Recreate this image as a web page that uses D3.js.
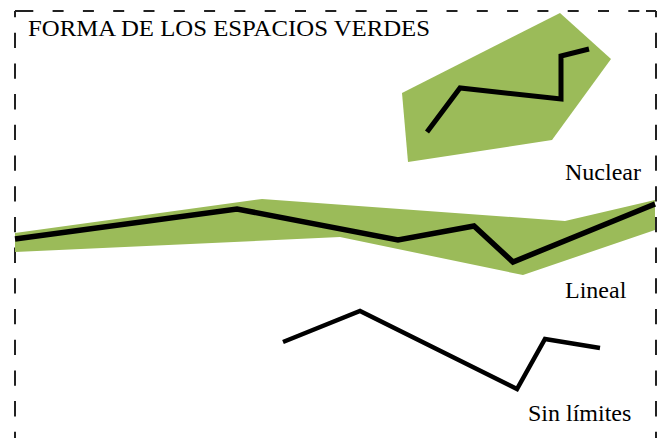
<!DOCTYPE html>
<html>
<head>
<meta charset="utf-8">
<script src="https://cdn.jsdelivr.net/npm/d3@7"></script>
<style>
  html, body { margin: 0; padding: 0; background: #fff; }
  svg { display: block; }
  .label { font-family: "Liberation Serif", "Times New Roman", serif; fill: #000; }
</style>
</head>
<body>
<div class="chart"></div>
<script>
// Valores, en unidades del recuadro (0 = borde izquierdo / superior)
const title = "FORMA DE LOS ESPACIOS VERDES";
const shapeNames = ["Nuclear", "Lineal", "Sin límites"];

const nuclearArea = [[387, 82], [545, 2], [596, 48], [537, 129], [393, 151]];
const nuclearLine = [[412, 121], [445, 77], [546, 88], [546, 45], [574, 38]];

const linealArea = [[0, 222], [247, 188], [550, 210], [640, 189], [640, 219], [508, 264], [325, 226], [0, 241]];
const linealLine = [[0, 228], [222, 198], [383, 229], [459, 215], [498, 251], [640, 193]];

const sinLimitesLine = [[268, 331], [345, 300], [502, 378], [530, 328], [585, 337]];

const width = 663;
const height = 438;

const svg = d3.select("div.chart")
    .append("svg")
    .attr("width", width)
    .attr("height", height);

const x = d3.scaleLinear().domain([0, 641]).range([15, 656]);
const y = d3.scaleLinear().domain([0, 427]).range([11, 438]);

// recuadro discontinuo
const frame = svg.append("g")
    .attr("fill", "none")
    .attr("stroke", "#222")
    .attr("stroke-width", 2);

frame.append("line")
    .attr("x1", x(0)).attr("y1", y(0)).attr("x2", x(641)).attr("y2", y(0))
    .attr("stroke-dasharray", "11,19.3")
    .attr("stroke-dashoffset", 23);
frame.append("line")
    .attr("x1", x(0)).attr("y1", y(0)).attr("x2", x(8)).attr("y2", y(0));
frame.append("line")
    .attr("x1", x(631)).attr("y1", y(0)).attr("x2", x(641)).attr("y2", y(0));
frame.append("line")
    .attr("x1", x(0)).attr("y1", y(0)).attr("x2", x(0)).attr("y2", height + 20)
    .attr("stroke-dasharray", "15.3,15.4")
    .attr("stroke-dashoffset", 9);
frame.append("line")
    .attr("x1", x(641)).attr("y1", y(0)).attr("x2", x(641)).attr("y2", height + 20)
    .attr("stroke-dasharray", "15.3,15.4")
    .attr("stroke-dashoffset", 9);

const line = d3.line()
    .x(function(d) { return x(d[0]); })
    .y(function(d) { return y(d[1]); });

const area = d3.line()
    .x(function(d) { return x(d[0]); })
    .y(function(d) { return y(d[1]); })
    .curve(d3.curveLinearClosed);

// manchas verdes
svg.append("g")
    .selectAll("path")
    .data([nuclearArea, linealArea])
    .enter()
    .append("path")
    .attr("d", area)
    .attr("fill", "#9bbb59");

// trazos negros
svg.append("g")
    .selectAll("path")
    .data([
        {pts: nuclearLine, w: 5},
        {pts: linealLine, w: 5.5},
        {pts: sinLimitesLine, w: 4.5}
    ])
    .enter()
    .append("path")
    .attr("d", function(d) { return line(d.pts); })
    .attr("fill", "none")
    .attr("stroke", "#000")
    .attr("stroke-width", function(d) { return d.w; })
    .attr("stroke-linejoin", "miter");

svg.append("text")
    .attr("class", "label")
    .attr("x", 28)
    .attr("y", 36)
    .attr("font-size", 24)
    .attr("textLength", 402)
    .attr("lengthAdjust", "spacingAndGlyphs")
    .text(title);

const labelPos = [[565, 180], [565, 298], [528, 421]];
svg.append("g")
    .selectAll("text")
    .data(shapeNames)
    .enter()
    .append("text")
    .attr("class", "label")
    .attr("x", function(d, i) { return labelPos[i][0]; })
    .attr("y", function(d, i) { return labelPos[i][1]; })
    .attr("font-size", 24)
    .text(function(d) { return d; });
</script>
</body>
</html>
